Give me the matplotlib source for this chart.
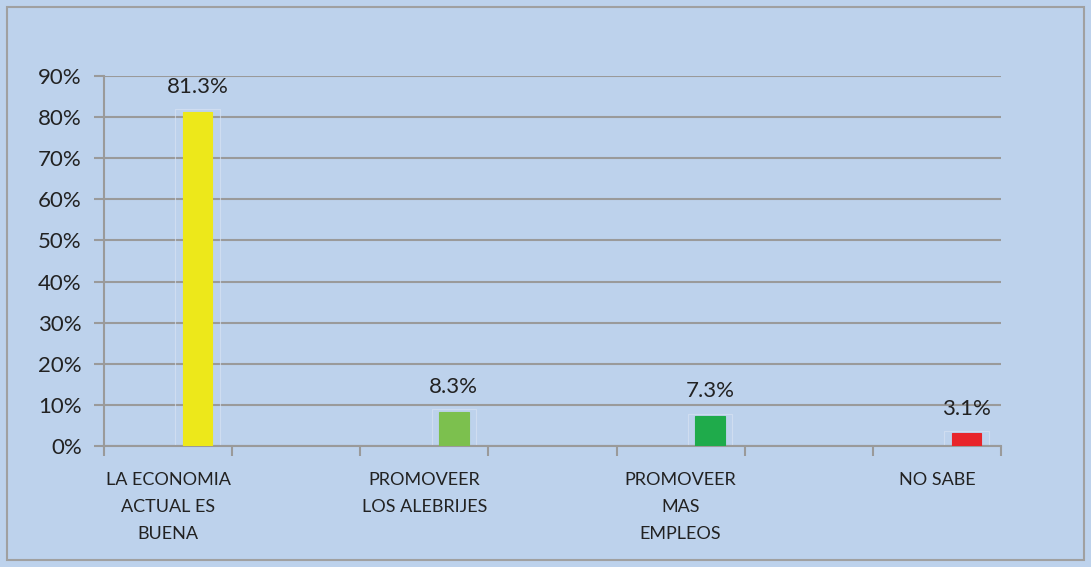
import matplotlib
matplotlib.use("Agg")
import matplotlib.pyplot as plt
from matplotlib.patches import Rectangle
from matplotlib.ticker import PercentFormatter, MultipleLocator

plt.rcParams["font.family"] = ["Lato", "DejaVu Sans"]

# chart data (slots 1, 3, 5 are empty categories in the original)
categories = ["LA ECONOMIA\nACTUAL ES\nBUENA", "", "PROMOVEER\nLOS ALEBRIJES", "",
              "PROMOVEER\nMAS\nEMPLEOS", "", "NO SABE"]
values = [0.813, None, 0.083, None, 0.073, None, 0.031]
labels = ["81.3%", None, "8.3%", None, "7.3%", None, "3.1%"]
bar_colors = ["#ede81a", None, "#7cc04e", None, "#1fab4b", None, "#e8242a"]

BG = "#bdd2ec"
GRID = "#9a9a9a"

fig = plt.figure(figsize=(10.91, 5.67), dpi=100)
fig.patch.set_facecolor(BG)

W, H = 1091, 567
ax = fig.add_axes([104 / W, (H - 446) / H, (1001 - 104) / W, (446 - 76) / H])
ax.set_facecolor(BG)

bw = 0.23      # bar width in category units
off = 0.23     # bars sit one bar width right of category centre
for i, (v, lab, c) in enumerate(zip(values, labels, bar_colors)):
    if v is None:
        continue
    ax.bar(i + off, v, width=bw, color=c, edgecolor=c, linewidth=0.8, zorder=3)
    # faint light frame round each bar
    ax.add_patch(Rectangle((i + off - bw * 0.75, 0), bw * 1.5, v + 0.006,
                           facecolor="none", edgecolor="#d8e3f3", linewidth=0.8,
                           alpha=0.7, zorder=2))
    ax.text(i + off, v + 0.06, lab, ha="center", va="center",
            fontsize=16, color="#222222", zorder=4)

ax.set_xlim(-0.5, len(categories) - 0.5)
ax.set_ylim(0, 0.9)
ax.yaxis.set_major_locator(MultipleLocator(0.1))
ax.yaxis.set_major_formatter(PercentFormatter(1.0, decimals=0))
ax.grid(axis="y", color=GRID, linewidth=1.5, zorder=1)
ax.set_axisbelow(True)

# category labels at centres, tick marks at boundaries
ax.set_xticks(range(len(categories)))
ax.set_xticklabels(categories, fontsize=13, color="#222222", linespacing=1.85, va="top")
ax.tick_params(axis="x", which="major", length=0, pad=19)
ax.set_xticks([x - 0.5 for x in range(len(categories) + 1)], minor=True)
ax.tick_params(axis="x", which="minor", length=7, width=1.5, color=GRID, direction="out")
ax.tick_params(axis="y", length=7, width=1.5, color=GRID, labelsize=16,
               labelcolor="#222222", pad=9)

for s in ["top", "right"]:
    ax.spines[s].set_visible(False)
for s in ["left", "bottom"]:
    ax.spines[s].set_color(GRID)
    ax.spines[s].set_linewidth(1.5)

# outer chart frame
fig.add_artist(Rectangle((7 / W, 7 / H), (1084 - 7) / W, (560 - 7) / H,
                         transform=fig.transFigure, facecolor="none",
                         edgecolor="#a0a0a0", linewidth=1.5))

plt.savefig("out.png", dpi=100, facecolor=fig.get_facecolor())
